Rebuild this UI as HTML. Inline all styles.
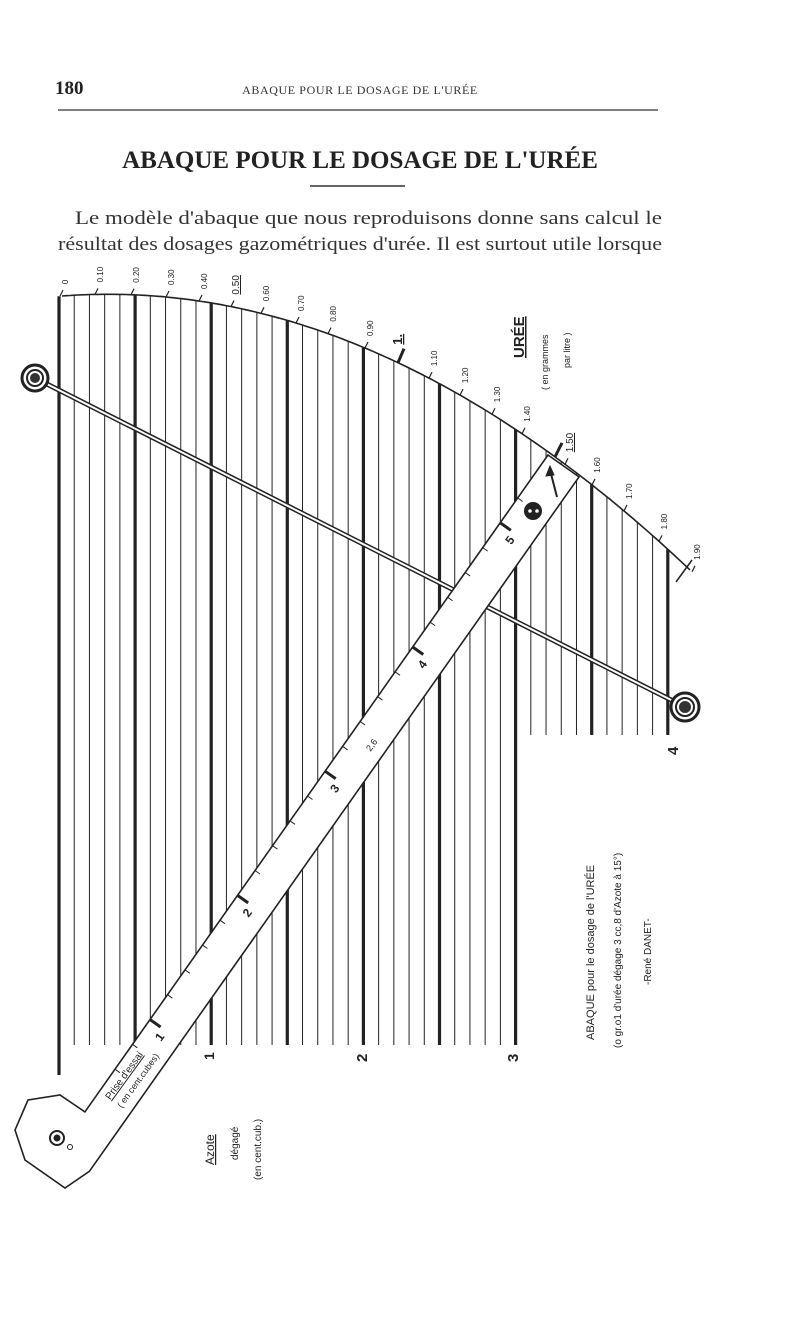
<!DOCTYPE html>
<html><head><meta charset="utf-8">
<style>
html,body{margin:0;padding:0;background:#fff;}
body{width:800px;height:1325px;position:relative;overflow:hidden;font-family:"Liberation Serif",serif;color:#222;}
</style></head>
<body>
<svg id="s" width="800" height="1325" viewBox="0 0 800 1325" xmlns="http://www.w3.org/2000/svg" style="position:absolute;left:0;top:0">
<text x="55" y="94" font-family="Liberation Serif" font-weight="bold" font-size="19" fill="#222">180</text>
<text x="360" y="94" text-anchor="middle" font-family="Liberation Serif" font-size="12" letter-spacing="0.6" fill="#333">ABAQUE POUR LE DOSAGE DE L'URÉE</text>
<line x1="58" y1="110" x2="658" y2="110" stroke="#333" stroke-width="1.3"/>
<text x="360" y="168" text-anchor="middle" font-family="Liberation Serif" font-weight="bold" font-size="25" fill="#222">ABAQUE POUR LE DOSAGE DE L'URÉE</text>
<line x1="310" y1="186" x2="405" y2="186" stroke="#333" stroke-width="1.5"/>
<text x="75" y="224" font-family="Liberation Serif" font-size="18.5" fill="#333" textLength="587" lengthAdjust="spacingAndGlyphs">Le modèle d'abaque que nous reproduisons donne sans calcul le</text>
<text x="58" y="250" font-family="Liberation Serif" font-size="18.5" fill="#333" textLength="604" lengthAdjust="spacingAndGlyphs">résultat des dosages gazométriques d'urée. Il est surtout utile lorsque</text>
<g id="g" stroke="#222" fill="none"></g>
<g id="t" font-family="Liberation Sans" fill="#222"></g>
</svg>
<script>
(function(){
var g=document.getElementById('g'),T=document.getElementById('t'),ns='http://www.w3.org/2000/svg';
function el(p,tag,a,txt){var e=document.createElementNS(ns,tag);for(var k in a)e.setAttribute(k,a[k]);if(txt)e.textContent=txt;p.appendChild(e);return e;}
function cy(x){var d=x-62;return 296+0.000814*d*d-0.075*d;}
for(var k=0;k<=40;k++){var x=59+15.22*k;var yt=cy(x);var bot;
 if(k==0)bot=1075;else if(k<=30)bot=1045;else bot=735;
 var thick=(k%5==0);
 el(g,'line',{x1:x,y1:yt,x2:x,y2:bot,'stroke-width':thick?3.2:1});
}
var d='M62 296';for(var x=62;x<=690;x+=4){d+=' L'+x+' '+cy(x).toFixed(1);}
el(g,'path',{d:d,'stroke-width':1.6});
el(g,'line',{x1:676,y1:582,x2:692,y2:560,'stroke-width':1.5});
var labs=[[57,'0'],[92,'0.10'],[128,'0.20'],[163,'0.30'],[196,'0.40'],[228,'0.50'],[258,'0.60'],[293,'0.70'],[325,'0.80'],[362,'0.90'],[426,'1.10'],[457,'1.20'],[489,'1.30'],[519,'1.40'],[562,'1.50'],[589,'1.60'],[621,'1.70'],[656,'1.80'],[689,'1.90']];
labs.forEach(function(l){var x=l[0]+3,y=cy(x);
 el(g,'line',{x1:x,y1:y,x2:x+3,y2:y-6,'stroke-width':1.2});
 var tx=x+8,ty=y-12;var u=(l[1]=='0.50'||l[1]=='1.50');
 el(T,'text',{x:tx,y:ty,'font-size':u?10:8,transform:'rotate(-90 '+tx+' '+ty+')','text-decoration':u?'underline':'none'},l[1]);
});
el(g,'line',{x1:398,y1:cy(398),x2:404,y2:cy(398)-14,'stroke-width':3});
el(T,'text',{x:402,y:cy(398)-18,'font-size':13,'font-weight':'bold',transform:'rotate(-90 402 '+(cy(398)-18)+')','text-decoration':'underline'},'1.');
el(g,'line',{x1:555,y1:cy(555),x2:562,y2:cy(555)-14,'stroke-width':3});
function vt(x,y,s,fs,extra){var a={x:x,y:y,'font-size':fs,transform:'rotate(-90 '+x+' '+y+')'};for(var k in extra)a[k]=extra[k];el(T,'text',a,s);}
vt(524,358,'URÉE',15,{'text-decoration':'underline','font-weight':'bold'});
vt(548,390,'( en grammes',9);
vt(570,368,'par litre )',9);
vt(678,755,'4',15,{'font-weight':'bold'});
vt(214,1060,'1',14,{'font-weight':'bold'});
vt(367,1062,'2',15,{'font-weight':'bold'});
vt(518,1062,'3',15,{'font-weight':'bold'});
vt(214,1165,'Azote',12,{'text-decoration':'underline'});
vt(238,1160,'dégagé',10);
vt(261,1180,'(en cent.cub.)',10);
vt(594,1040,"ABAQUE pour le dosage de l'URÉE",11);
vt(621,1048,"(o gr.o1 d'urée dégage 3 cc,8 d'Azote à 15°)",10);
vt(651,985,'-René DANET-',10);
var ax=35,ay=378,bx=685,by=707;
el(g,'line',{x1:ax,y1:ay,x2:bx,y2:by,'stroke-width':5});
el(g,'line',{x1:ax,y1:ay,x2:bx,y2:by,'stroke-width':2,stroke:'#fff'});
[[35,378,13],[685,707,14]].forEach(function(c){
 el(g,'circle',{cx:c[0],cy:c[1],r:c[2],fill:'#fff','stroke-width':3});
 el(g,'circle',{cx:c[0],cy:c[1],r:c[2]-5,fill:'#fff','stroke-width':2});
 el(g,'circle',{cx:c[0],cy:c[1],r:c[2]-8,fill:'#333',stroke:'none'});
});
var ux=-0.576,uy=0.817,nx=0.817,ny=0.576,W=38,ox=548,oy=455;
function P(t,w){return [ox+ux*t+nx*w,oy+uy*t+ny*w];}
var pts=[P(0,0),P(0,W),P(850,W),[65,1188],[25,1160],[15,1130],[28,1100],[60,1095],P(804,0)];
el(g,'polygon',{points:pts.map(function(p){return p[0].toFixed(1)+','+p[1].toFixed(1)}).join(' '),fill:'#fff','stroke-width':1.6});
for(var v=0.6;v<=5.31;v+=0.2){var t=691-152*(v-1);var maj=Math.abs(v-Math.round(v))<0.01;var len=maj?13:6;
 var a=P(t,0),b=P(t,len);el(g,'line',{x1:a[0],y1:a[1],x2:b[0],y2:b[1],'stroke-width':maj?3:1});}
[1,2,3,4,5].forEach(function(n){var p=P(691-152*(n-1)+12,22);el(T,'text',{x:p[0],y:p[1],'font-size':12,'font-weight':'bold',transform:'rotate(-54 '+p[0]+' '+p[1]+')'},''+n);});
var p1=P(345,26);el(T,'text',{x:p1[0],y:p1[1],'font-size':9,transform:'rotate(-54 '+p1[0]+' '+p1[1]+')'},'2,6');
var pp=P(780,14);el(T,'text',{x:pp[0],y:pp[1],'font-size':10,'text-decoration':'underline',transform:'rotate(-54 '+pp[0]+' '+pp[1]+')'},"Prise d'essai");
var pq=P(780,28);el(T,'text',{x:pq[0],y:pq[1],'font-size':9,transform:'rotate(-54 '+pq[0]+' '+pq[1]+')'},'( en cent.cubes)');
el(g,'circle',{cx:533,cy:511,r:9,fill:'#222',stroke:'none'});
el(g,'circle',{cx:530,cy:511,r:1.8,fill:'#fff',stroke:'none'});
el(g,'circle',{cx:537,cy:511,r:1.8,fill:'#fff',stroke:'none'});
el(g,'line',{x1:557,y1:497,x2:550,y2:470,'stroke-width':2});
el(g,'polygon',{points:'550,466 546,476 554,475',fill:'#222'});
el(g,'circle',{cx:57,cy:1138,r:7,fill:'#fff','stroke-width':2});
el(g,'circle',{cx:57,cy:1138,r:3.5,fill:'#222',stroke:'none'});
el(g,'circle',{cx:70,cy:1147,r:2.5,fill:'#fff','stroke-width':1});
})();
</script>
</body></html>
